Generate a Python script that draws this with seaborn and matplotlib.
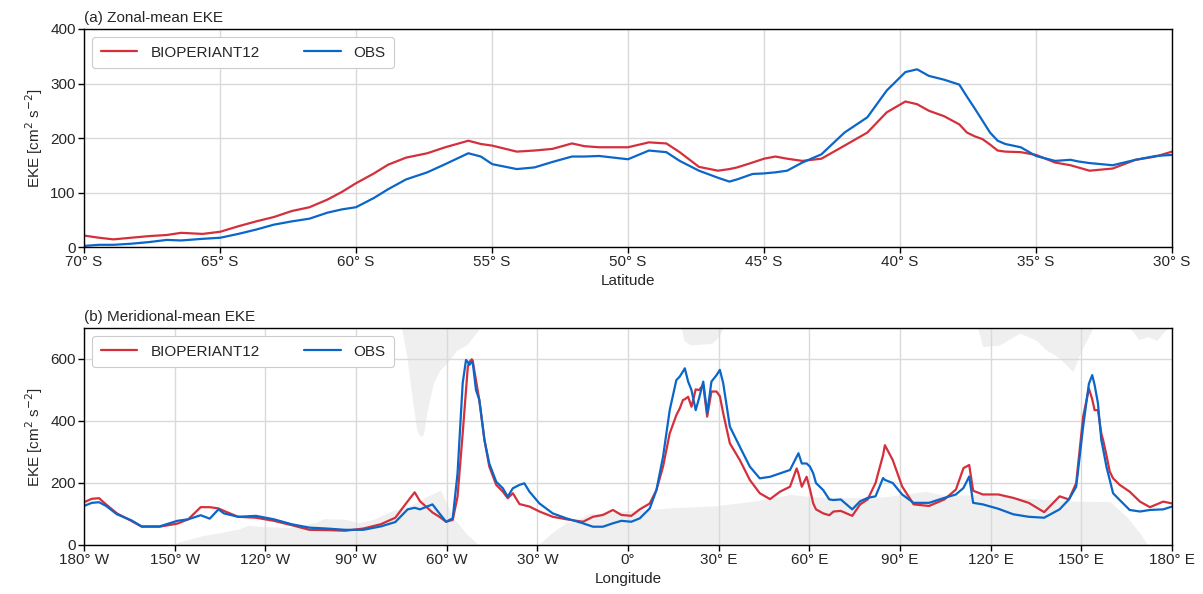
import numpy as np
import pandas as pd
import matplotlib
matplotlib.use("Agg")
import matplotlib.pyplot as plt
import seaborn as sns

# ---------------- data: panel (a) zonal mean ----------------
lat_a = [-70.0, -69.45, -68.92, -68.27, -67.61, -66.96, -66.43, -65.64, -64.99, -64.33,
         -63.67, -63.02, -62.36, -61.71, -61.05, -60.52, -60.0, -59.34, -58.82, -58.16,
         -57.38, -56.72, -55.87, -55.41, -54.99, -54.09, -53.44, -52.78, -52.06, -51.6,
         -51.06, -50.0, -49.23, -48.59, -48.1, -47.39, -46.69, -46.27, -45.99, -45.42,
         -45.0, -44.58, -44.15, -43.59, -42.89, -42.04, -41.2, -40.49, -39.8, -39.37,
         -38.94, -38.38, -37.82, -37.54, -37.25, -36.97, -36.69, -36.41, -36.13, -35.56,
         -35.0, -34.3, -33.73, -33.45, -33.03, -32.18, -31.34, -30.6, -30.0]
model_a = [21, 17, 14, 17, 20, 22, 26, 24, 28, 38,
           47, 55, 66, 73, 87, 101, 117, 135, 151, 164,
           172, 183, 195, 189, 186, 175, 177, 180, 190, 185,
           183, 183, 192, 190, 174, 147, 140, 143, 146, 155,
           162, 166, 162, 158, 162, 186, 210, 247, 267, 262,
           250, 240, 225, 210, 203, 198, 188, 177, 175, 174,
           169, 155, 150, 146, 140, 144, 160, 166, 175]
obs_a = [2, 4, 4, 6, 9, 13, 12, 15, 17, 24,
         32, 41, 47, 52, 63, 69, 73, 90, 106, 124,
         137, 152, 172, 166, 152, 143, 146, 156, 166, 166,
         167, 161, 177, 174, 158, 140, 127, 120, 124, 134,
         135, 137, 140, 155, 170, 210, 238, 287, 321, 326,
         314, 307, 298, 276, 254, 232, 210, 195, 189, 183,
         167, 158, 160, 157, 154, 150, 160, 167, 169]

# ---------------- data: panel (b) meridional mean ----------------
lon_b = [-180, -177.4, -175, -172.7, -169.1, -164.4, -160.9, -155, -149.1, -145.5,
         -141.4, -138.4, -135.5, -133.7, -129, -123.1, -117.2, -111.3, -105.4, -99.5,
         -93.6, -87.6, -81.8, -77, -72.9, -70.6, -68.8, -64.7, -62.4, -60.2,
         -58, -56.4, -54.7, -53.6, -53, -52.5, -51.7, -51.4, -50.3, -49.2,
         -47.5, -45.9, -43.6, -41.4, -39.8, -38.1, -35.9, -34.3, -32.6, -29.3,
         -24.9, -20.4, -14.9, -11.6, -8.3, -5, -2.2, 1.1, 3.9, 7.2,
         9.4, 11.6, 13.8, 16, 17.1, 18.2, 18.8, 19.9, 21, 22.4,
         23.5, 24.9, 26.2, 27.6, 29.3, 30.4, 31.5, 33.7, 37, 40.3,
         43.6, 47, 50.3, 53.6, 55.8, 56.4, 57.5, 59.1, 60.2, 61.3,
         62.2, 64.6, 66.6, 68, 70.4, 74.2, 76.8, 79.3, 81.9, 84.4,
         85, 87.6, 90.7, 94.5, 99.6, 104.7, 108.5, 111, 112.9, 114.2,
         117.4, 122.5, 127.5, 132.6, 137.7, 142.8, 145.9, 148.3, 150.6, 152.2,
         152.5, 153.6, 154.4, 155.5, 156.6, 157.2, 158.3, 159.4, 160.5, 162.7,
         166, 169.4, 172.7, 177.1, 180]
model_b = [138, 149, 151, 131, 102, 78, 59, 59, 69, 83,
           122, 122, 118, 110, 91, 88, 78, 64, 49, 48,
           46, 53, 67, 88, 141, 170, 141, 105, 91, 75,
           81, 156, 360, 500, 575, 590, 599, 595, 532, 468,
           339, 253, 194, 172, 151, 167, 132, 128, 124, 108,
           91, 83, 75, 91, 97, 113, 97, 94, 115, 134,
           177, 253, 360, 419, 440, 468, 470, 478, 446, 502,
           500, 516, 414, 495, 495, 480, 425, 328, 274, 210,
           167, 148, 172, 188, 247, 230, 188, 220, 180, 134,
           115, 102, 96, 108, 110, 94, 131, 147, 200, 290,
           322, 274, 189, 131, 126, 147, 179, 248, 258, 175,
           163, 163, 152, 136, 106, 157, 147, 200, 414, 490,
           505, 470, 435, 435, 360, 339, 290, 237, 215, 194,
           172, 140, 122, 140, 134]
obs_b = [126, 136, 138, 126, 99, 80, 60, 60, 78, 83,
         96, 85, 115, 102, 91, 94, 83, 67, 56, 53,
         49, 49, 60, 74, 115, 120, 115, 131, 102, 75,
         86, 231, 522, 597, 590, 581, 590, 591, 500, 468,
         339, 263, 204, 183, 156, 183, 194, 199, 172, 134,
         102, 86, 70, 59, 59, 70, 78, 75, 86, 118,
         177, 285, 435, 532, 543, 560, 570, 527, 500, 435,
         473, 527, 425, 527, 548, 565, 522, 382, 317, 253,
         215, 220, 231, 242, 285, 296, 263, 263, 253, 231,
         200, 177, 147, 145, 147, 115, 141, 152, 157, 216,
         210, 200, 163, 136, 136, 152, 163, 184, 221, 136,
         131, 117, 99, 91, 88, 115, 147, 188, 382, 500,
         520, 548, 516, 457, 339, 310, 253, 210, 167, 145,
         113, 108, 113, 115, 124]

# land silhouettes (background)
land_low_lon = [-180, -150, -149.1, -140.8, -134.9, -129, -125.5, -121.9, -111.3, -103,
                -100.7, -93.6, -88.9, -84.1, -78.2, -72.3, -66.4, -62.9, -62, -58,
                -53.6, -50, -49, -30, -28.6, -25.1, -20.4, -18.2, -12.7, -9.5,
                0, 14.6, 28.5, 41.2, 54, 61.5, 79.3, 85.4, 98.4, 104.7,
                117.4, 130, 140.7, 149, 159.5, 165, 169.4, 172, 180]
land_low = [0, 0, 8, 30, 40, 51, 64, 60, 56, 74,
            85, 83, 72, 83, 110, 126, 157, 173, 176, 91,
            38, 5, 0, 0, 10, 40, 72, 75, 102, 102,
            110, 120, 126, 141, 163, 155, 152, 156, 173, 160,
            163, 152, 145, 141, 140, 91, 38, 0, 0]
samerica_lon = [-74.9, -73.2, -71.6, -69.9, -68.8, -67.7, -66.6, -64.4, -62.2, -60, -56.7, -53.4, -51.2, -49]
samerica = [700, 607, 489, 371, 351, 355, 425, 522, 565, 586, 629, 645, 672, 700]
africa_lon = [17.6, 18.5, 20.6, 24, 27.7, 30.0, 31.5]
africa = [700, 660, 645, 648, 650, 672, 700]
australia_lon = [115.7, 117.4, 122.9, 129.6, 135.1, 138.4, 142.8, 147.2, 150, 153.9]
australia = [700, 640, 645, 684, 660, 629, 603, 559, 629, 700]
nz_lon = [166, 167.5, 169, 172, 175, 177, 178.5]
nz = [700, 684, 663, 672, 660, 684, 700]

lat_ticks = [-70, -65, -60, -55, -50, -45, -40, -35, -30]
lon_ticks = [-180, -150, -120, -90, -60, -30, 0, 30, 60, 90, 120, 150, 180]

RED = "#d3303c"
BLUE = "#0a66c8"
LAND = "#efefef"

sns.set_style("whitegrid")
plt.rcParams["font.family"] = ["Liberation Sans", "DejaVu Sans"]
plt.rcParams["font.size"] = 11

def lat_label(v):
    return f"{abs(v)}° S"

def lon_label(v):
    if v == 0:
        return "0°"
    return f"{abs(v)}° {'W' if v < 0 else 'E'}"

fig = plt.figure(figsize=(12.03, 5.94), dpi=100)
ax1 = fig.add_axes([84 / 1203, 1 - 247 / 594, 1088 / 1203, 218 / 594])
ax2 = fig.add_axes([84 / 1203, 1 - 545 / 594, 1088 / 1203, 217 / 594])

df_a = pd.concat([
    pd.DataFrame({"lat": lat_a, "EKE": model_a, "src": "BIOPERIANT12"}),
    pd.DataFrame({"lat": lat_a, "EKE": obs_a, "src": "OBS"}),
])
df_b = pd.concat([
    pd.DataFrame({"lon": lon_b, "EKE": model_b, "src": "BIOPERIANT12"}),
    pd.DataFrame({"lon": lon_b, "EKE": obs_b, "src": "OBS"}),
])
pal = {"BIOPERIANT12": RED, "OBS": BLUE}

sns.lineplot(data=df_a, x="lat", y="EKE", hue="src", palette=pal, lw=1.6, ax=ax1,
             estimator=None, sort=True)

# land background in panel b
ax2.fill_between(land_low_lon, 0, land_low, color=LAND, lw=0, zorder=0.5)
for lo, va in [(samerica_lon, samerica), (africa_lon, africa),
               (australia_lon, australia), (nz_lon, nz)]:
    ax2.fill_between(lo, va, 700, color=LAND, lw=0, zorder=0.5)

sns.lineplot(data=df_b, x="lon", y="EKE", hue="src", palette=pal, lw=1.6, ax=ax2,
             estimator=None, sort=True)

for ax in (ax1, ax2):
    ax.grid(True, color="#dadada", lw=1.0)
    ax.set_axisbelow(True)
    for s in ax.spines.values():
        s.set_color("black")
        s.set_linewidth(1.0)
    ax.tick_params(axis="both", which="major", direction="out", length=4, width=1,
                   color="black", labelsize=11, bottom=True, left=True, pad=2)
    ax.set_ylabel("EKE [cm$^2$ s$^{-2}$]", fontsize=11)
    leg = ax.legend(loc="upper left", ncol=2, frameon=True, fontsize=11,
                    handlelength=2.4, columnspacing=2.9, borderpad=0.55,
                    handletextpad=0.85, borderaxespad=0.55)
    leg.get_frame().set_edgecolor("#cccccc")
    leg.get_frame().set_linewidth(0.8)
    leg.get_frame().set_alpha(1.0)
    for l in leg.get_lines():
        l.set_linewidth(1.6)

ax1.set_xlim(-70, -30)
ax1.set_ylim(0, 400)
ax1.set_yticks([0, 100, 200, 300, 400])
ax1.set_xticks(lat_ticks)
ax1.set_xticklabels([lat_label(v) for v in lat_ticks])
ax1.set_xlabel("Latitude", fontsize=11, labelpad=3)
ax1.set_title("(a) Zonal-mean EKE", loc="left", fontsize=11, pad=5)

ax2.set_xlim(-180, 180)
ax2.set_ylim(0, 700)
ax2.set_yticks([0, 200, 400, 600])
ax2.set_xticks(lon_ticks)
ax2.set_xticklabels([lon_label(v) for v in lon_ticks])
ax2.set_xlabel("Longitude", fontsize=11, labelpad=3)
ax2.set_title("(b) Meridional-mean EKE", loc="left", fontsize=11, pad=5)

fig.savefig("out.png", dpi=100)
